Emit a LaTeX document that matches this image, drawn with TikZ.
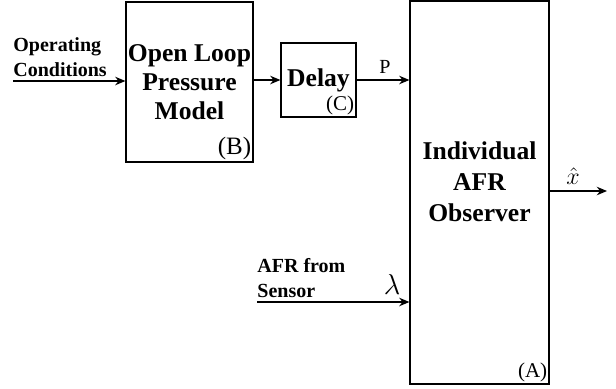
\documentclass[tikz,border=0pt]{standalone}
\usepackage{amsmath, amssymb}
\usepackage{fontspec}
\setmainfont{Liberation Serif}
\usepackage{tikz}
\usetikzlibrary{arrows.meta, positioning}

\begin{document}
\begin{tikzpicture}[
    x = 0.5pt, y = -0.5pt,
    block/.style  = {rectangle, draw=black, line width=0.6pt,
                     align=center, inner sep=0pt,
                     font=\bfseries\fontsize{12.8}{14.6}\selectfont},
    tag/.style    = {inner sep=1pt, font=\fontsize{10.5}{12}\selectfont},
    inlabel/.style = {align=left, inner sep=0pt,
                      font=\bfseries\fontsize{10}{12.6}\selectfont},
    sig/.style    = {inner sep=0pt, font=\fontsize{10}{12}\selectfont},
    arrow/.style  = {-{Stealth[length=1.8mm, width=1.5mm]},
                     line width=0.6pt}
]
\useasboundingbox (0,0) rectangle (616,388);

%% Blocks
\node[block, minimum width=63.5pt, minimum height=80pt]
    (model) at (189.5,82) {Open Loop\\Pressure\\Model};
\node[block, minimum width=37.5pt, minimum height=37pt]
    (delay) at (318.5,80) {Delay};
\node[block, minimum width=69.5pt, minimum height=191.5pt]
    (obs) at (479.5,192.5) {};
\node[align=center, inner sep=0pt,
      font=\bfseries\fontsize{12.8}{15.5}\selectfont]
    (obstext) at (479.5,182) {Individual\\AFR\\Observer};

%% Block tags
\node[tag, anchor=south east, font=\fontsize{12.5}{14}\selectfont]
    (tagB) at (model.south east) {(B)};
\node[tag, anchor=south east] (tagC) at (delay.south east) {(C)};
\node[tag, anchor=south east] (tagA) at (obs.south east) {(A)};

%% Free ends
\coordinate (opin)  at (13,81);
\coordinate (sens)  at (257,302);
\coordinate (xout)  at (607,191);

%% Arrows
\draw[arrow] (opin) -- (opin -| model.west);
\draw[arrow] (model.east |- delay.west) -- (delay.west);
\draw[arrow] (delay.east) -- (delay.east -| obs.west);
\draw[arrow] (sens) -- (sens -| obs.west);
\draw[arrow] (xout -| obs.east) -- (xout);

%% Signal labels
\node[inlabel, anchor=south west] (oplabel) at (13,77)
    {Operating\\Conditions};
\node[inlabel, anchor=south west] (senslabel) at (257,298)
    {AFR from\\Sensor};
\node[sig] (plabel) at (385,67) {P};
\node[sig, font=\fontsize{14}{16}\selectfont] (lamlabel) at (392,284)
    {$\lambda$};
\node[sig, font=\fontsize{13}{15}\selectfont] (xlabel) at (573,176)
    {$\hat{x}$};
\end{tikzpicture}
\end{document}
